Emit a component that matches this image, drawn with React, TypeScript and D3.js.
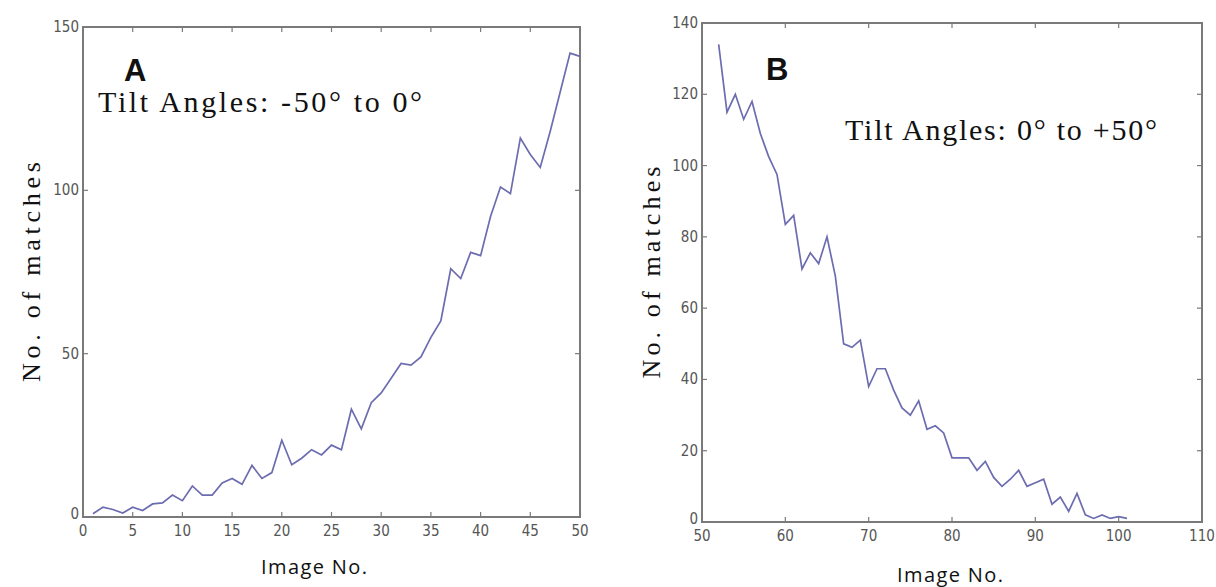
import React from "react";
import * as d3 from "d3";

// panel A: tilt -50 to 0
const imagesA = d3.range(1, 51);
const matchesA = [
  1, 3, 2.3, 1.2, 3, 2, 4, 4.3, 6.7, 5,
  9.5, 6.7, 6.7, 10.4, 11.8, 10, 15.8, 11.8, 13.6, 23.5,
  16, 18, 20.6, 19, 22, 20.6, 33, 27, 35, 38,
  42.5, 47, 46.5, 49, 55, 60, 76, 73, 81, 80,
  92, 101, 99, 116, 111, 107, 118, 130, 142, 141,
];
const xTicksA = [0, 5, 10, 15, 20, 25, 30, 35, 40, 45, 50];
const yTicksA = [0, 50, 100, 150];

// panel B: tilt 0 to +50
const imagesB = d3.range(52, 102);
const matchesB = [
  134, 115, 120, 113, 118, 109, 102.5, 97.5, 83.5, 86,
  71, 75.5, 72.5, 80, 69, 50, 49, 51, 38, 43,
  43, 37, 32, 30, 34, 26, 27, 25, 18, 18,
  18, 14.5, 17, 12.5, 10, 12, 14.5, 10, 11, 12,
  5, 7, 3, 8, 2, 1, 2, 1, 1.5, 1,
];
const xTicksB = [50, 60, 70, 80, 90, 100, 110];
const yTicksB = [0, 20, 40, 60, 80, 100, 120, 140];

const LINE = "#6c6cb0";
const FRAME = "#7a7a7a";
const TICKFONT = "'DejaVu Sans Condensed', 'Liberation Sans', Arial, sans-serif";
const SERIF = "'Liberation Serif', 'Times New Roman', serif";
const SANS = "'Open Sans', Lato, sans-serif";

type PanelProps = {
  xs: number[];
  ys: number[];
  xDomain: [number, number];
  yDomain: [number, number];
  xTicks: number[];
  yTicks: number[];
  left: number;
  right: number;
  top: number;
  bottom: number;
  letter: string;
  letterPos: [number, number];
  note: string;
  notePos: [number, number];
  noteWidth: number;
  yLabelX: number;
  yLabelLen: number;
  xLabelPos: [number, number];
};

function Panel(p: PanelProps) {
  const x = d3.scaleLinear().domain(p.xDomain).range([p.left, p.right]);
  const y = d3.scaleLinear().domain(p.yDomain).range([p.bottom, p.top]);
  const line = d3
    .line<number>()
    .x((_, i) => x(p.xs[i]))
    .y((d) => y(d));
  const tl = 5;
  const midY = (p.top + p.bottom) / 2;
  return (
    <g>
      <rect
        x={p.left}
        y={p.top}
        width={p.right - p.left}
        height={p.bottom - p.top}
        fill="none"
        stroke={FRAME}
        strokeWidth={2}
      />
      {p.xTicks.map((t) => (
        <g key={"x" + t}>
          <line x1={x(t)} x2={x(t)} y1={p.bottom} y2={p.bottom - tl} stroke={FRAME} strokeWidth={1.2} />
          <line x1={x(t)} x2={x(t)} y1={p.top} y2={p.top + tl} stroke={FRAME} strokeWidth={1.2} />
          <text
            x={x(t)}
            y={p.bottom + 19}
            textAnchor="middle"
            fontFamily={TICKFONT}
            fontSize={15}
            fill="#555"
          >
            {t}
          </text>
        </g>
      ))}
      {p.yTicks.map((t) => (
        <g key={"y" + t}>
          <line x1={p.left} x2={p.left + tl} y1={y(t)} y2={y(t)} stroke={FRAME} strokeWidth={1.2} />
          <line x1={p.right} x2={p.right - tl} y1={y(t)} y2={y(t)} stroke={FRAME} strokeWidth={1.2} />
          <text
            x={p.left - 4}
            y={y(t) + (t === 0 ? 2 : 5)}
            textAnchor="end"
            fontFamily={TICKFONT}
            fontSize={15}
            fill="#555"
          >
            {t}
          </text>
        </g>
      ))}
      <path d={line(p.ys) || ""} fill="none" stroke={LINE} strokeWidth={1.7} />
      <text
        x={p.letterPos[0]}
        y={p.letterPos[1]}
        fontFamily="'Liberation Sans', Arial, sans-serif"
        fontWeight="bold"
        fontSize={31}
        fill="#111"
      >
        {p.letter}
      </text>
      <text
        x={p.notePos[0]}
        y={p.notePos[1]}
        fontFamily={SERIF}
        fontSize={30}
        fill="#111"
        textLength={p.noteWidth}
        lengthAdjust="spacing"
      >
        {p.note}
      </text>
      <text
        transform={`translate(${p.yLabelX},${midY}) rotate(-90)`}
        textAnchor="middle"
        fontFamily={SERIF}
        fontSize={26}
        fill="#111"
        textLength={p.yLabelLen}
        lengthAdjust="spacing"
      >
        No. of matches
      </text>
      <text
        x={p.xLabelPos[0]}
        y={p.xLabelPos[1]}
        textAnchor="middle"
        fontFamily={SANS}
        fontSize={20}
        fill="#111"
        textLength={106}
        lengthAdjust="spacing"
      >
        Image No.
      </text>
    </g>
  );
}

export default function App() {
  return (
    <div style={{ position: "absolute", left: 0, top: 0 }}>
      <svg width={1216} height={587} style={{ display: "block", background: "#fff" }}>
        <Panel
          xs={imagesA}
          ys={matchesA}
          xDomain={[0, 50]}
          yDomain={[0, 150]}
          xTicks={xTicksA}
          yTicks={yTicksA}
          left={83}
          right={580}
          top={27}
          bottom={517}
          letter="A"
          letterPos={[124, 81]}
          note="Tilt Angles: -50° to 0°"
          notePos={[98, 112]}
          noteWidth={324}
          yLabelX={40}
          yLabelLen={220}
          xLabelPos={[314, 574]}
        />
        <Panel
          xs={imagesB}
          ys={matchesB}
          xDomain={[50, 110]}
          yDomain={[0, 140]}
          xTicks={xTicksB}
          yTicks={yTicksB}
          left={702}
          right={1202}
          top={23}
          bottom={522}
          letter="B"
          letterPos={[766, 80]}
          note="Tilt Angles: 0° to +50°"
          notePos={[845, 140]}
          noteWidth={312}
          yLabelX={660}
          yLabelLen={212}
          xLabelPos={[950, 582]}
        />
      </svg>
    </div>
  );
}
